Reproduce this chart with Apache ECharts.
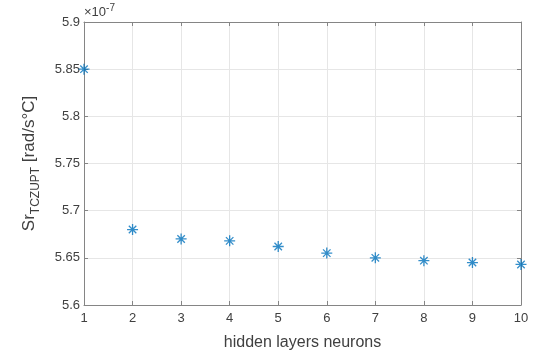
<!DOCTYPE html>
<html>
<head>
<meta charset="utf-8">
<script src="https://cdn.jsdelivr.net/npm/echarts@6/dist/echarts.min.js"></script>
<style>
  html, body { margin: 0; padding: 0; background: #fff; }
  #chart { width: 550px; height: 356px; }
</style>
</head>
<body>
<div id="chart"></div>
<script>
// neurons in hidden layer
const neurons = [1, 2, 3, 4, 5, 6, 7, 8, 9, 10];
// Sr values, in units of 1e-7 rad/s°C
const srValues = [5.85, 5.68, 5.67, 5.668, 5.662, 5.655, 5.65, 5.647, 5.645, 5.643];

const lineColor = "#858585";
const textColor = "#404040";
const font = "Liberation Sans, Arial, sans-serif";
// asterisk marker like matlab '*'
const asterisk = "path://M5 0L5 10M0 5L10 5M1.6 1.6L8.4 8.4M8.4 1.6L1.6 8.4";

const chart = echarts.init(document.getElementById("chart"));

const boxAxis = {
  axisLine: { show: true, lineStyle: { color: lineColor, width: 1 } },
  axisTick: { show: true, inside: true, length: 4, lineStyle: { color: lineColor } },
  axisLabel: { show: false },
  splitLine: { show: false }
};

chart.setOption({
  animation: false,
  grid: { left: 84, right: 29, top: 22, bottom: 48 },
  xAxis: [
    {
      type: "value",
      min: 1,
      max: 10,
      interval: 1,
      position: "bottom",
      name: "hidden layers neurons",
      nameLocation: "middle",
      nameGap: 30,
      nameTextStyle: { color: textColor, fontSize: 16, fontFamily: font },
      axisLine: { show: true, lineStyle: { color: lineColor } },
      axisTick: { show: true, inside: true, length: 4, lineStyle: { color: lineColor } },
      axisLabel: { color: textColor, fontSize: 13, fontFamily: font, margin: 7 },
      splitLine: { show: true, lineStyle: { color: "#e6e6e6" } }
    },
    Object.assign({ type: "value", min: 1, max: 10, interval: 1, position: "top" }, boxAxis)
  ],
  yAxis: [
    {
      type: "value",
      min: 5.6,
      max: 5.9,
      interval: 0.05,
      position: "left",
      name: "{a|Sr}{b|TCZUPT}{a| [rad/s°C]}",
      nameLocation: "middle",
      nameGap: 42,
      nameTextStyle: {
        rich: {
          a: { fontSize: 17, color: textColor, fontFamily: font },
          b: { fontSize: 12, color: textColor, fontFamily: font, padding: [14, 0, 0, 0] }
        }
      },
      axisLine: { show: true, lineStyle: { color: lineColor } },
      axisTick: { show: true, inside: true, length: 4, lineStyle: { color: lineColor } },
      axisLabel: {
        color: textColor, fontSize: 13, fontFamily: font, margin: 4,
        formatter: v => String(parseFloat(v.toFixed(2)))
      },
      splitLine: { show: true, lineStyle: { color: "#e6e6e6" } }
    },
    Object.assign({ type: "value", min: 5.6, max: 5.9, interval: 0.05, position: "right" }, boxAxis)
  ],
  graphic: [
    {
      type: "text",
      left: 84,
      top: 3,
      style: {
        text: "{a|×10}{b|-7}",
        rich: {
          a: { fontSize: 13, fill: textColor, fontFamily: font },
          b: { fontSize: 10, fill: textColor, fontFamily: font, padding: [0, 0, 8, 0] }
        }
      }
    }
  ],
  series: [
    {
      type: "scatter",
      data: neurons.map((n, i) => [n, srValues[i]]),
      symbol: asterisk,
      symbolSize: 11,
      itemStyle: { color: "rgba(0,0,0,0)", borderColor: "#0072BD", borderWidth: 1.3 },
      clip: false
    }
  ]
});
</script>
</body>
</html>
